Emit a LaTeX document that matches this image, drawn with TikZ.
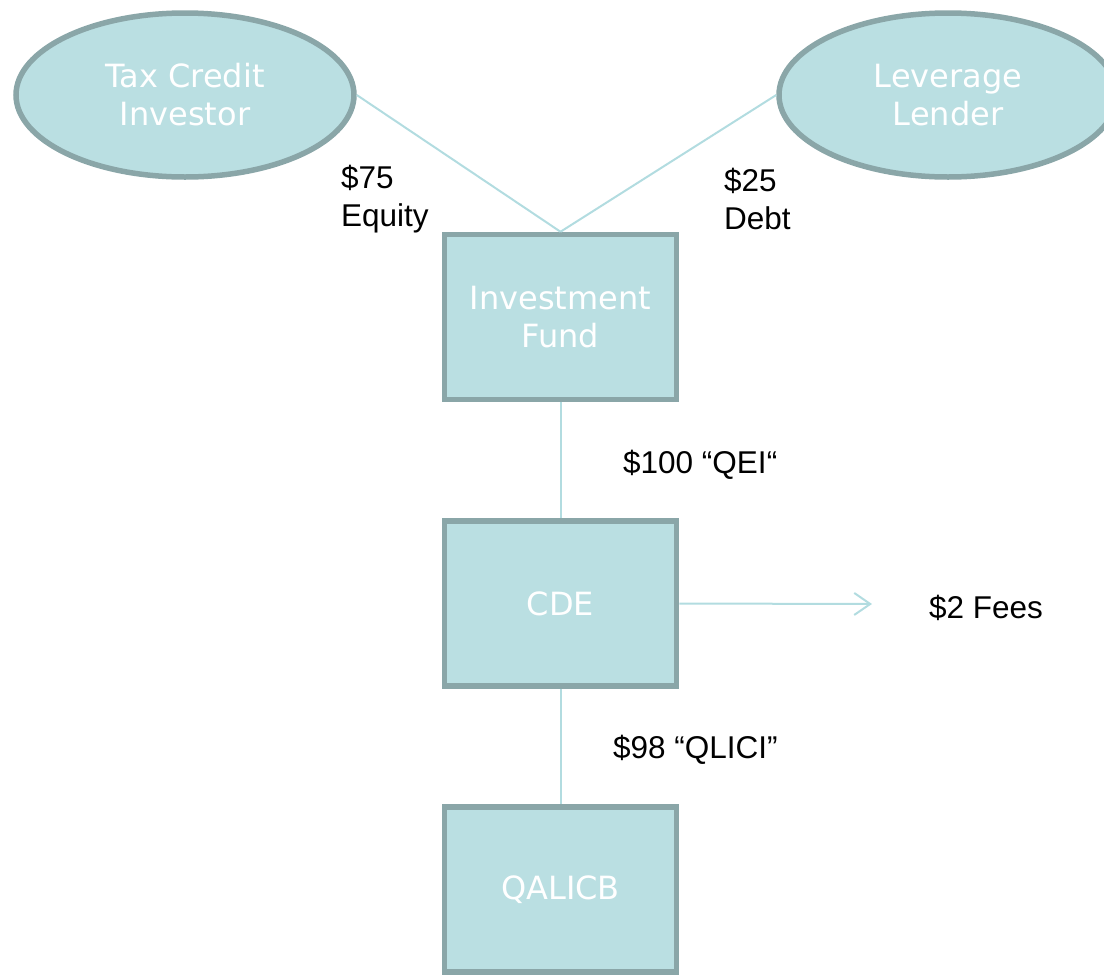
\documentclass[tikz,border=0pt]{standalone}
\usepackage{fontspec}
\setmainfont{Liberation Sans}
\newfontfamily\boxfont{DejaVu Sans}
\usetikzlibrary{shapes.geometric,arrows.meta}
\definecolor{boxfill}{HTML}{BADFE2}
\definecolor{boxline}{HTML}{8AA6A8}
\definecolor{conn}{HTML}{B2DCE0}
\tikzset{
  ent/.style={fill=boxfill,draw=boxline,line width=5.5pt,text=white,align=center,
    font=\boxfont\fontsize{32}{38}\selectfont,inner sep=0pt},
  boxent/.style={ent,rectangle,minimum width=232pt,minimum height=165pt},
  ellent/.style={ent,ellipse,minimum width=338pt,minimum height=164pt},
  conline/.style={draw=conn,line width=2pt},
  lbl/.style={font=\fontsize{31.5}{38}\selectfont,align=left,anchor=west,inner sep=0pt,text=black}
}
\begin{document}
\begin{tikzpicture}[x=1pt,y=-1pt]
\useasboundingbox (0,0) rectangle (1104,975);
\node[ellent] (tci) at (185,95) {Tax Credit\\Investor};
\node[ellent] (ll) at (948,95) {Leverage\\Lender};
\node[boxent] (fund) at (560.5,317) {Investment\\Fund};
\node[boxent] (cde) at (560.5,603.5) {CDE};
\node[boxent] (qal) at (560.5,889.5) {QALICB};
\coordinate (fees) at (872,604);
\draw[conline] (tci.east) -- (fund.north);
\draw[conline] (ll.west) -- (fund.north);
\draw[conline] (fund.south) -- (cde.north);
\draw[conline] (cde.south) -- (qal.north);
\draw[conline,-{Straight Barb[length=16pt,width=22pt,line width=2pt]}] (cde.east) -- (fees);
\node[lbl] (l75) at (341,199) {\$75\\Equity};
\node[lbl] (l25) at (724,199) {\$25\\Debt};
\node[lbl] (l100) at (623,465) {\$100 “QEI“};
\node[lbl] (l98) at (613,750) {\$98 “QLICI”};
\node[lbl] (l2) at (929,608) {\$2 Fees};
\end{tikzpicture}
\end{document}
